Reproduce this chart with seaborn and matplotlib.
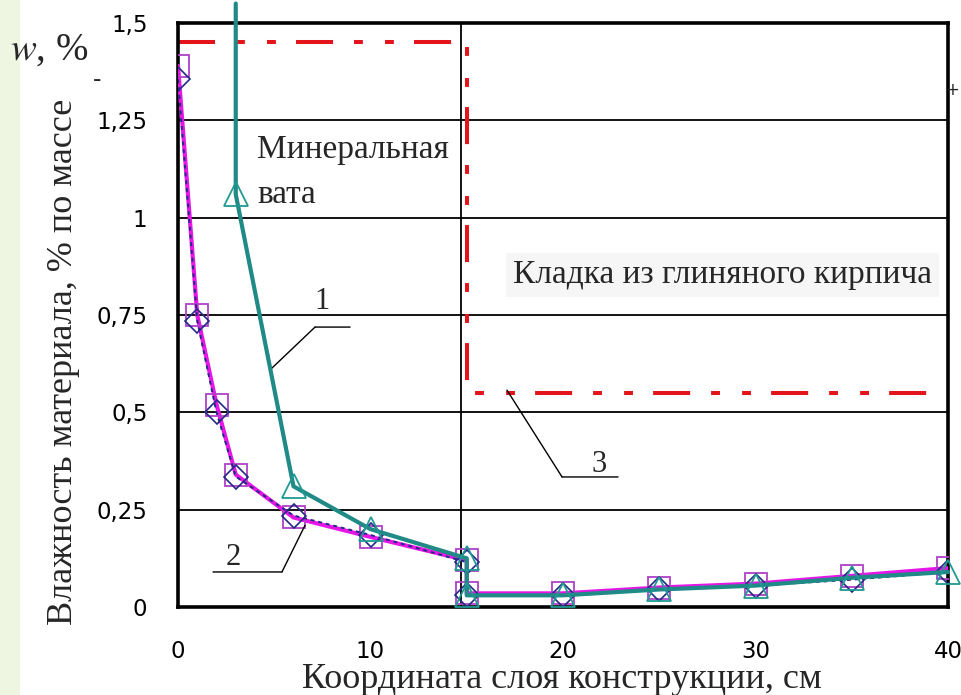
import numpy as np
import pandas as pd
import matplotlib
matplotlib.use('Agg')
import matplotlib.pyplot as plt
from matplotlib.patches import Rectangle
from matplotlib.ticker import FuncFormatter
import seaborn as sns

# curve 1 - mineral wool (teal, triangles); first point is the line leaving the top
x_1 = [3, 3, 6, 10, 15, 15, 20, 25, 30, 35, 40]
y_1 = [1.55, 1.06, 0.31, 0.20, 0.125, 0.03, 0.03, 0.045, 0.055, 0.075, 0.09]

# curve 2 - magenta squares and its navy companion with diamonds
x_2 = [0, 1, 2, 3, 6, 10, 15, 15, 20, 25, 30, 35, 40]
y_2 = [1.39, 0.75, 0.52, 0.34, 0.23, 0.18, 0.12, 0.035, 0.035, 0.05, 0.06, 0.08, 0.10]
y_2b = [1.355, 0.735, 0.50, 0.335, 0.235, 0.185, 0.115, 0.03, 0.03, 0.045, 0.055, 0.07, 0.09]

# curve 3 - maximum permissible moisture (red dash-dot)
x_3 = [0, 15, 15, 40]
y_3 = [1.45, 1.45, 0.55, 0.55]

x_ticks = [0, 10, 20, 30, 40]
y_ticks = [0, 0.25, 0.5, 0.75, 1, 1.25, 1.5]

df1 = pd.DataFrame({'x': x_1, 'y': y_1})
df2 = pd.DataFrame({'x': x_2, 'y': y_2, 'yb': y_2b})
df3 = pd.DataFrame({'x': x_3, 'y': y_3})

sns.set_style("white")
plt.rcParams['font.family'] = ['DejaVu Sans']

fig = plt.figure(figsize=(9.61, 6.95), dpi=100)
fig.patches.append(Rectangle((0, 0), 20 / 961, 1, transform=fig.transFigure,
                             facecolor='#eef5e1', edgecolor='none', zorder=0))
ax = fig.add_axes([178 / 961, 1 - 607 / 695, 770 / 961, 584 / 695])

# grid
for yv in y_ticks[1:-1]:
    ax.axhline(yv, color='black', lw=1.3, zorder=1)
ax.axvline(14.7, color='black', lw=1.3, zorder=1)

sns.lineplot(data=df3, x='x', y='y', sort=False, estimator=None, ax=ax,
             color='#e3141c', lw=2.9, dashes=False, zorder=2)
ax.lines[-1].set_dashes((9.2, 5.2, 2.2, 5.5, 2.2, 5.0))

sns.lineplot(data=df2, x='x', y='y', sort=False, estimator=None, ax=ax,
             color='#e617e6', lw=3.0, marker='s', markersize=16,
             markerfacecolor='none', markeredgecolor='#b040c8', markeredgewidth=1.3,
             zorder=3)
sns.lineplot(data=df2, x='x', y='yb', sort=False, estimator=None, ax=ax,
             color='#232a86', lw=1.4, linestyle=(0, (2, 2)), marker='D', markersize=12,
             markerfacecolor='none', markeredgecolor='#232a86', markeredgewidth=1.2,
             zorder=4)
sns.lineplot(data=df1, x='x', y='y', sort=False, estimator=None, ax=ax,
             color='#1f8a86', lw=3.0, marker='^', markersize=17,
             markevery=list(range(1, len(x_1))),
             markerfacecolor='none', markeredgecolor='#1f9a92', markeredgewidth=1.3,
             zorder=5, clip_on=False)

ax.set_xlim(0, 40)
ax.set_ylim(0, 1.5)
ax.set_xticks(x_ticks)
ax.set_yticks(y_ticks)
ax.yaxis.set_major_formatter(FuncFormatter(lambda v, p: ('%g' % v).replace('.', ',')))
ax.tick_params(axis='both', direction='out', length=8, width=1.5, colors='black',
               labelsize=16.5)
ax.tick_params(axis='x', pad=16)
ax.tick_params(axis='y', pad=14)
for s in ax.spines.values():
    s.set_color('black')
    s.set_linewidth(2.6)
ax.set_xlabel('')
ax.set_ylabel('')

serif = ['Liberation Serif', 'DejaVu Serif']
fig.text(64 / 961, 1 - 362 / 695, 'Влажность материала, % по массе', rotation=90,
         ha='center', va='center', fontsize=26, family=serif)
fig.text(562 / 961, 1 - 688 / 695, 'Координата слоя конструкции, см',
         ha='center', va='baseline', fontsize=26, family=serif)
fig.text(10 / 961, 1 - 50 / 695, r'$\mathit{w}$, %', ha='left', va='center',
         fontsize=28, family=serif, math_fontfamily='stix')
fig.text(97 / 961, 1 - 80 / 695, '-', ha='center', va='center', fontsize=17)
fig.text(952 / 961, 1 - 90 / 695, '+', ha='center', va='center', fontsize=12)

ax.text(4.1, 1.175, 'Минеральная', fontsize=24, family=serif, va='center', ha='left')
ax.text(4.1, 1.06, 'вата', fontsize=24, family=serif, va='center', ha='left')
ax.text(17.4, 0.853, 'Кладка из глиняного кирпича', fontsize=24, family=serif,
        va='center', ha='left',
        bbox=dict(facecolor='#f6f6f6', edgecolor='none', pad=5))

# leader lines with numbers
lead = dict(arrowstyle='-', color='black', lw=1.0, shrinkA=0, shrinkB=0)
ax.annotate('', xy=(4.78, 0.609), xytext=(7.12, 0.719), arrowprops=lead)
ax.annotate('', xy=(8.94, 0.719), xytext=(7.12, 0.719), arrowprops=lead)
ax.text(7.5, 0.785, '1', fontsize=22, family=serif, ha='center', va='center')
ax.annotate('', xy=(6.6, 0.21), xytext=(5.4, 0.09), arrowprops=lead)
ax.annotate('', xy=(1.82, 0.09), xytext=(5.4, 0.09), arrowprops=lead)
ax.text(2.85, 0.126, '2', fontsize=22, family=serif, ha='center', va='center')
ax.annotate('', xy=(17.09, 0.557), xytext=(19.95, 0.334), arrowprops=lead)
ax.annotate('', xy=(22.86, 0.334), xytext=(19.95, 0.334), arrowprops=lead)
ax.text(21.9, 0.365, '3', fontsize=22, family=serif, ha='center', va='center')

fig.savefig('out.png', dpi=100)
